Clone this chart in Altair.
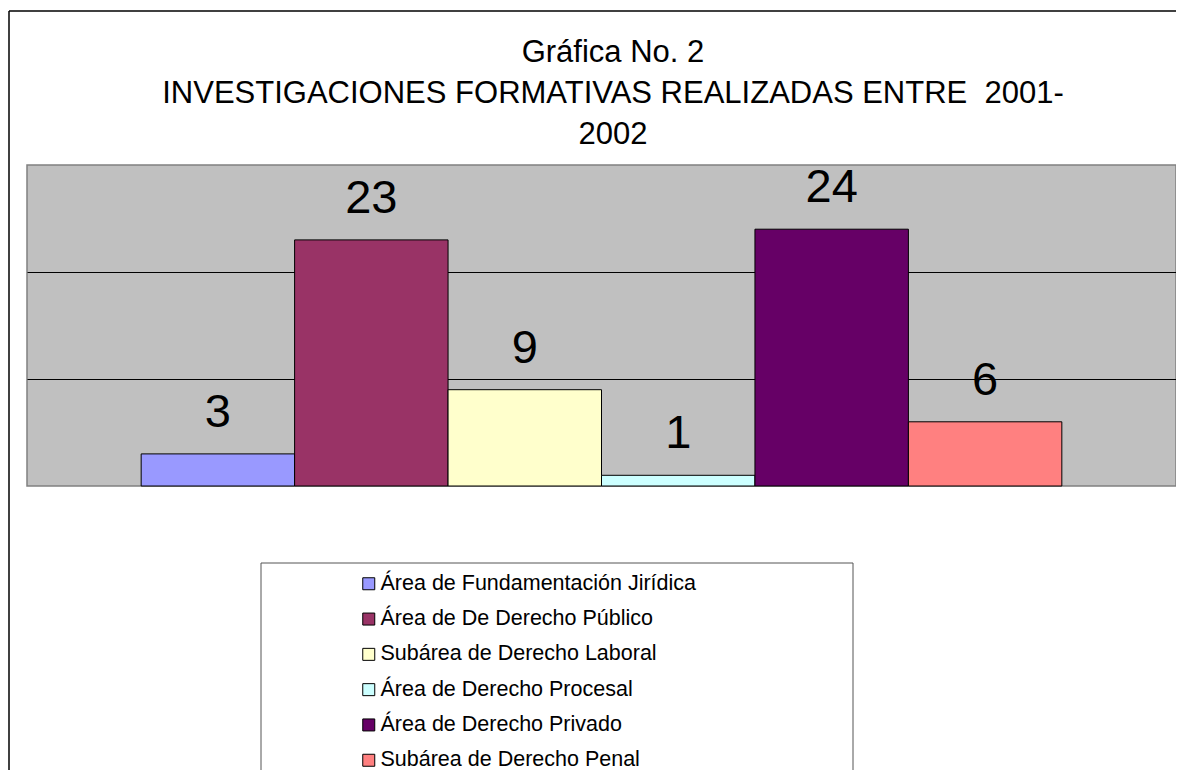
import altair as alt
import pandas as pd

categories = [
    "Área de Fundamentación Jirídica",
    "Área de De Derecho Público",
    "Subárea de Derecho Laboral",
    "Área de Derecho Procesal",
    "Área de Derecho Privado",
    "Subárea de Derecho Penal",
]
values = [3, 23, 9, 1, 24, 6]
colors = ["#9999FF", "#993366", "#FFFFCC", "#CCFFFF", "#660066", "#FF8080"]
title_lines = ["Gráfica No. 2", "INVESTIGACIONES FORMATIVAS REALIZADAS ENTRE\u00a0 2001-", "2002"]

FONT = "Liberation Sans"
W, H = 1149, 321

df = pd.DataFrame({"cat": categories, "val": values})

x = alt.X("cat:N", sort=categories, axis=None,
          scale=alt.Scale(paddingInner=0, paddingOuter=0.744))
y = alt.Y("val:Q", scale=alt.Scale(domain=[0, 30], nice=False),
          axis=alt.Axis(values=[10, 20], grid=True, gridColor="black", gridWidth=1,
                        gridOpacity=1, labels=False, ticks=False, domain=False, title=None))

color = alt.Color("cat:N", sort=categories,
                  scale=alt.Scale(domain=categories, range=colors),
                  legend=alt.Legend(title=None, orient="none", legendX=331, legendY=408,
                                    symbolType="square", symbolSize=144,
                                    symbolStrokeColor="black", symbolStrokeWidth=1,
                                    symbolOpacity=1,
                                    labelFont=FONT, labelFontSize=21.5, labelColor="black",
                                    labelOffset=1, rowPadding=12.3, padding=0,
                                    labelLimit=600))

base = alt.Chart(df)
bars = base.mark_bar(stroke="black", strokeWidth=1, opacity=1).encode(x=x, y=y, color=color)
labels = base.mark_text(font=FONT, fontSize=47, color="black", baseline="alphabetic",
                        align="center", dy=-27).encode(x=x, y=y, text="val:Q")

one = alt.Data(values=[{"k": 1}])
frame_v = alt.Chart(one).mark_rule(color="black", strokeWidth=1.5).encode(
    x=alt.value(-18), y=alt.value(-154), y2=alt.value(700))
frame_h = alt.Chart(one).mark_rule(color="black", strokeWidth=1.5).encode(
    x=alt.value(-18), x2=alt.value(1200), y=alt.value(-154))
legend_box = alt.Chart(one).mark_rect(fill="white", stroke="#555555", strokeWidth=1).encode(
    x=alt.value(234), x2=alt.value(826), y=alt.value(398), y2=alt.value(640))

title_y = [-103, -62, -21]
title_layers = [
    alt.Chart(one).mark_text(font=FONT, fontSize=31, color="black", align="center",
                             baseline="alphabetic", text=line).encode(
        x=alt.value(586), y=alt.value(ty))
    for line, ty in zip(title_lines, title_y)
]

chart = alt.layer(frame_v, frame_h, legend_box, *title_layers, bars, labels).properties(
    width=W, height=H,
    background="white",
    autosize=alt.AutoSizeParams(type="none"),
    padding={"left": 19, "top": 157, "right": 0, "bottom": 284},
).configure_view(fill="#C0C0C0", stroke="#808080", strokeWidth=1.5)

chart.save("out.html", embed_options={"renderer": "svg", "actions": False})
